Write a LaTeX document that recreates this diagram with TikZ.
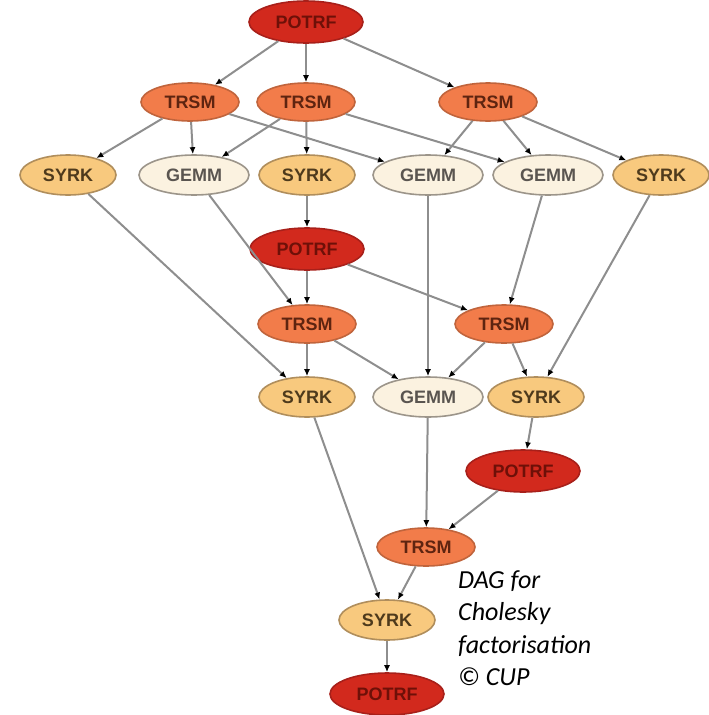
\documentclass[tikz,border=0pt]{standalone}
\usepackage{fontspec}
\setmainfont{Liberation Sans}
\newfontfamily\capfont{Carlito}
\usetikzlibrary{shapes.geometric,arrows.meta}
\definecolor{potrfF}{HTML}{D2291D}
\definecolor{potrfD}{HTML}{A8201A}
\definecolor{potrfT}{HTML}{6E1008}
\definecolor{trsmF}{HTML}{F27C4A}
\definecolor{trsmD}{HTML}{C0643C}
\definecolor{trsmT}{HTML}{5E2410}
\definecolor{syrkF}{HTML}{F8C97E}
\definecolor{syrkD}{HTML}{B08E5C}
\definecolor{syrkT}{HTML}{4E3A1C}
\definecolor{gemmF}{HTML}{FBF2E0}
\definecolor{gemmD}{HTML}{9C958A}
\definecolor{gemmT}{HTML}{5A5550}
\definecolor{edgeC}{HTML}{8E8E8E}
\tikzset{
  base/.style={ellipse, inner sep=0pt, line width=1.6pt, font=\fontsize{18}{18}\selectfont\bfseries},
  potrf/.style={base, fill=potrfF, draw=potrfD, text=potrfT, minimum width=114pt, minimum height=42pt},
  trsm/.style={base, fill=trsmF, draw=trsmD, text=trsmT, minimum width=98pt, minimum height=38pt},
  syrk/.style={base, fill=syrkF, draw=syrkD, text=syrkT, minimum width=96pt, minimum height=40pt},
  gemm/.style={base, fill=gemmF, draw=gemmD, text=gemmT, minimum width=110pt, minimum height=40pt},
  dep/.style={draw=edgeC, line width=2pt, -{Latex[length=7pt,width=6pt,color=black]}},
  captext/.style={anchor=base west, inner sep=0pt, font=\capfont\itshape\fontsize{26}{26}\selectfont}
}
\begin{document}
\begin{tikzpicture}[x=1pt,y=-1pt]
\useasboundingbox (0,0) rectangle (709,715);
% nodes
\node[potrf] (p1) at (306,22) {POTRF};
\node[trsm] (t1) at (190,102) {TRSM};
\node[trsm] (t2) at (306,102) {TRSM};
\node[trsm] (t3) at (488,102) {TRSM};
\node[syrk] (s1) at (68,175) {SYRK};
\node[gemm] (g1) at (194,175) {GEMM};
\node[syrk] (s2) at (307,175) {SYRK};
\node[gemm] (g2) at (428,175) {GEMM};
\node[gemm] (g3) at (548,175) {GEMM};
\node[syrk] (s3) at (661,175) {SYRK};
\node[potrf] (p2) at (307,249) {POTRF};
\node[trsm] (t4) at (307,324) {TRSM};
\node[trsm] (t5) at (504,324) {TRSM};
\node[syrk] (s4) at (307,397) {SYRK};
\node[gemm] (g4) at (428,397) {GEMM};
\node[syrk] (s5) at (536,397) {SYRK};
\node[potrf] (p3) at (523,471) {POTRF};
\node[trsm] (t6) at (426,547) {TRSM};
\node[syrk] (s6) at (387,620) {SYRK};
\node[potrf] (p4) at (387,694) {POTRF};
% edges
\draw[dep] (p1) -- (t1);
\draw[dep] (p1) -- (t2);
\draw[dep] (p1) -- (t3);
\draw[dep] (t1) -- (s1);
\draw[dep] (t1) -- (g1);
\draw[dep] (t1) -- (g2);
\draw[dep] (t2) -- (g1);
\draw[dep] (t2) -- (s2);
\draw[dep] (t2) -- (g3);
\draw[dep] (t3) -- (g2);
\draw[dep] (t3) -- (g3);
\draw[dep] (t3) -- (s3);
\draw[dep] (s1) -- (s4);
\draw[dep] (g1) -- (t4);
\draw[dep] (s2) -- (p2);
\draw[dep] (g2) -- (g4);
\draw[dep] (g3) -- (t5);
\draw[dep] (s3) -- (s5);
\draw[dep] (p2) -- (t4);
\draw[dep] (p2) -- (t5);
\draw[dep] (t4) -- (s4);
\draw[dep] (t4) -- (g4);
\draw[dep] (t5) -- (g4);
\draw[dep] (t5) -- (s5);
\draw[dep] (s5) -- (p3);
\draw[dep] (g4) -- (t6);
\draw[dep] (p3) -- (t6);
\draw[dep] (s4) -- (s6);
\draw[dep] (t6) -- (s6);
\draw[dep] (s6) -- (p4);
% caption
\node[captext] (c1) at (458,588) {DAG for};
\node[captext] (c2) at (458,620) {Cholesky};
\node[captext] (c3) at (458,653) {factorisation};
\node[captext] (c4) at (458,685) {© CUP};
\end{tikzpicture}
\end{document}
